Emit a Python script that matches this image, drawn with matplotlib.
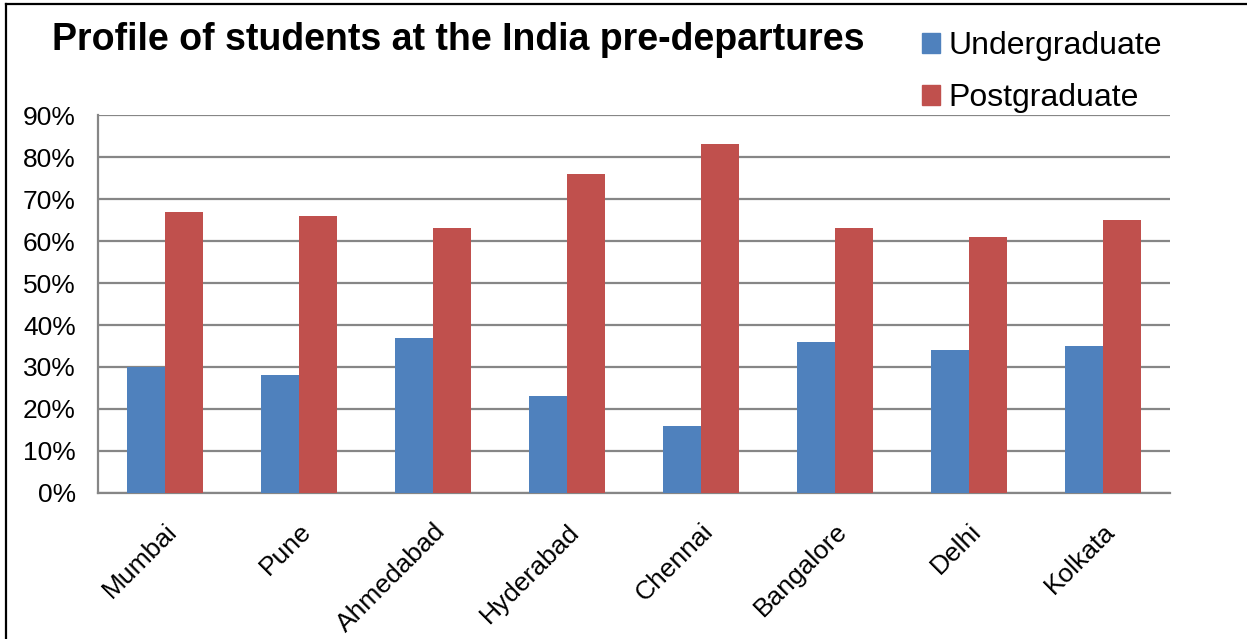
import matplotlib
import matplotlib.pyplot as plt
import numpy as np
from matplotlib.lines import Line2D
from matplotlib.patches import Patch
from matplotlib.ticker import PercentFormatter

matplotlib.use("Agg")
plt.rcParams["font.family"] = ["Liberation Sans", "DejaVu Sans"]

# 데이터
cities = ["Mumbai", "Pune", "Ahmedabad", "Hyderabad", "Chennai", "Bangalore", "Delhi", "Kolkata"]
undergraduate = [30, 28, 37, 23, 16, 36, 34, 35]
postgraduate = [67, 66, 63, 76, 83, 63, 61, 65]

blue = "#4F81BD"
red = "#C0504D"
grid_color = "#868686"

fig = plt.figure(figsize=(12.47, 6.39), dpi=100)
fig.patch.set_facecolor("white")
ax = fig.add_axes([0.0786, 0.2285, 0.8594, 0.5915])

x = np.arange(len(cities))
w = 0.284
ax.bar(x - w / 2, undergraduate, width=w, color=blue, zorder=3)
ax.bar(x + w / 2, postgraduate, width=w, color=red, zorder=3)

ax.set_xlim(-0.5, len(cities) - 0.5)
ax.set_ylim(0, 90)
ax.set_yticks(range(0, 91, 10))
ax.yaxis.set_major_formatter(PercentFormatter(decimals=0))
ax.grid(axis="y", color=grid_color, linewidth=1.6, zorder=0)
ax.set_axisbelow(True)

for side in ["top", "right"]:
    ax.spines[side].set_visible(False)
for side in ["left", "bottom"]:
    ax.spines[side].set_color(grid_color)
    ax.spines[side].set_linewidth(1.6)

ax.tick_params(axis="y", length=0, pad=16, labelsize=19)
ax.tick_params(axis="x", length=0, pad=19, labelsize=19)
ax.set_xticks(x)
ax.set_xticklabels(cities, rotation=45, ha="right", rotation_mode="anchor")

# 제목
fig.text(0.042, 0.937, "Profile of students at the India pre-departures",
         fontsize=27, fontweight="bold", va="center", ha="left")

# 범례
handles = [Patch(color=blue), Patch(color=red)]
fig.legend(handles, ["Undergraduate", "Postgraduate"], loc="upper left",
           bbox_to_anchor=(0.7295, 0.971), frameon=False, fontsize=23,
           handlelength=0.55, handleheight=0.55, handletextpad=0.25,
           labelspacing=0.69, borderaxespad=0)

# 테두리 (왼쪽, 위)
fig.add_artist(Line2D([0.005, 0.005], [0, 0.994], color="black", linewidth=1.6,
                      transform=fig.transFigure))
fig.add_artist(Line2D([0.005, 1], [0.994, 0.994], color="black", linewidth=1.6,
                      transform=fig.transFigure))

fig.savefig("out.png", dpi=100, facecolor="white")
